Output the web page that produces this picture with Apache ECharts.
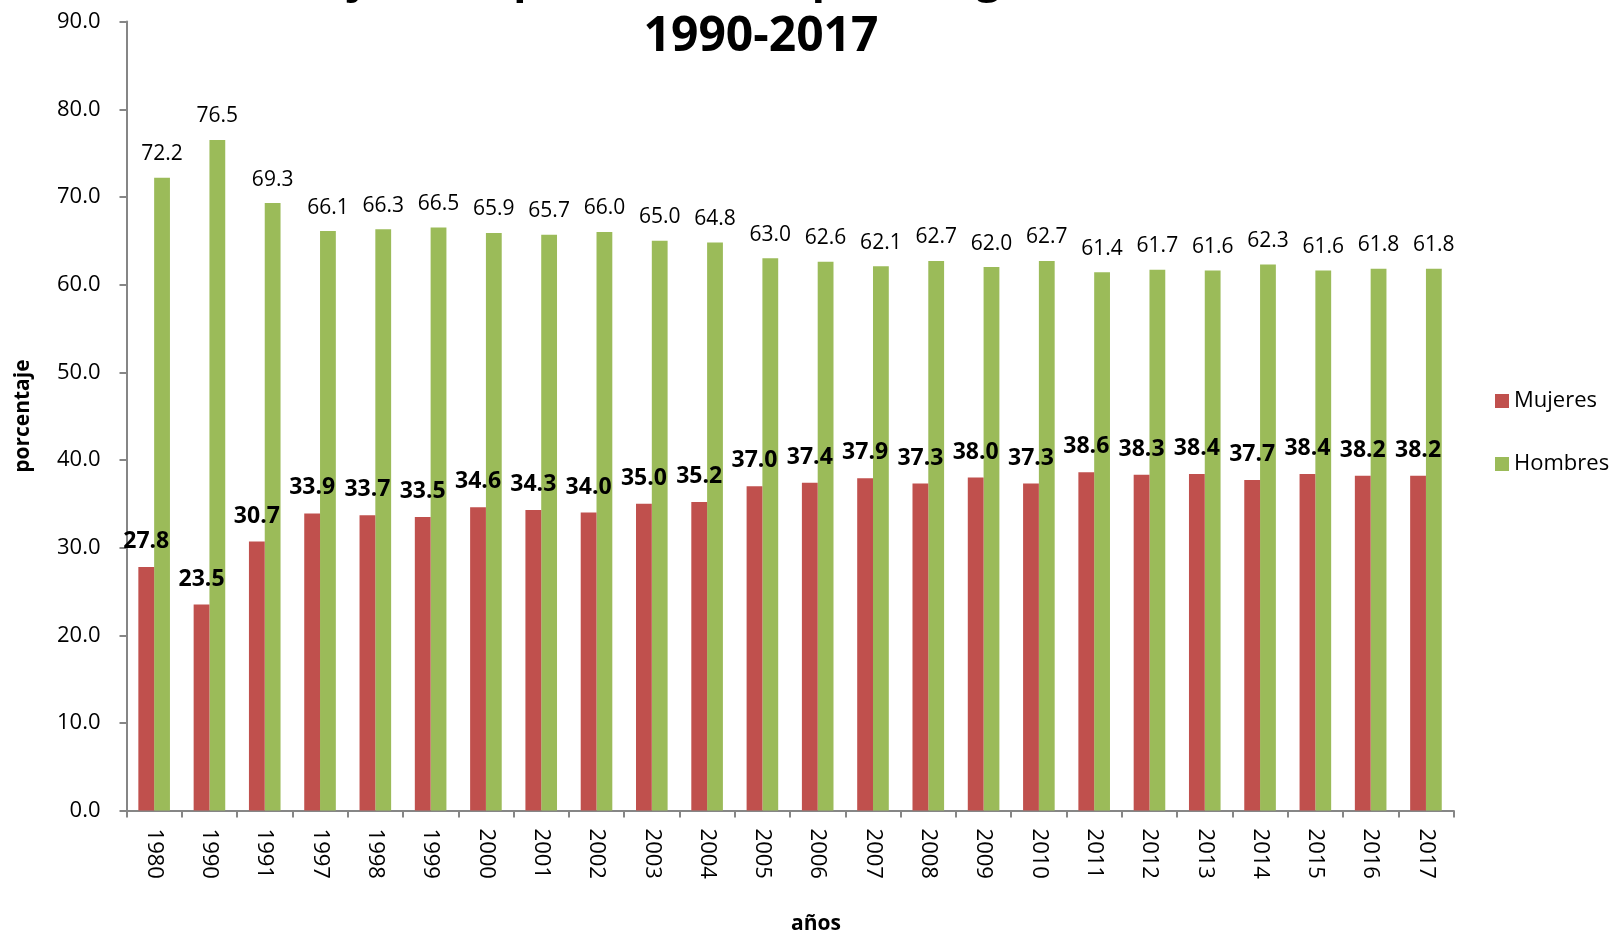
<!DOCTYPE html>
<html>
<head>
<meta charset="utf-8">
<script src="https://cdn.jsdelivr.net/npm/echarts@6/dist/echarts.min.js"></script>
<style>
  html, body { margin: 0; padding: 0; background: #ffffff; }
  #chart { width: 1613px; height: 933px; }
</style>
</head>
<body>
<div id="chart"></div>
<script>
// Years shown on the category axis
const years = ['1980', '1990', '1991', '1997', '1998', '1999', '2000', '2001', '2002', '2003',
  '2004', '2005', '2006', '2007', '2008', '2009', '2010', '2011', '2012', '2013',
  '2014', '2015', '2016', '2017'];

// Share of the employed population by sex (%)
const mujeres = [27.8, 23.5, 30.7, 33.9, 33.7, 33.5, 34.6, 34.3, 34.0, 35.0,
  35.2, 37.0, 37.4, 37.9, 37.3, 38.0, 37.3, 38.6, 38.3, 38.4,
  37.7, 38.4, 38.2, 38.2];
const hombres = [72.2, 76.5, 69.3, 66.1, 66.3, 66.5, 65.9, 65.7, 66.0, 65.0,
  64.8, 63.0, 62.6, 62.1, 62.7, 62.0, 62.7, 61.4, 61.7, 61.6,
  62.3, 61.6, 61.8, 61.8];

const titleLine1 = 'Porcentaje de la población ocupada según sexo,';
const titleLine2 = '1990-2017';

const FONT = 'Open Sans';
const AXIS_GREY = '#868686';

const chart = echarts.init(document.getElementById('chart'), null, { renderer: 'canvas' });

chart.setOption({
  backgroundColor: '#ffffff',
  animation: false,
  textStyle: { fontFamily: FONT },
  // first title line sits above the top edge, only its descenders reach into view
  graphic: [
    {
      type: 'text',
      x: 156,
      y: 2,
      silent: true,
      style: {
        text: titleLine1,
        fontFamily: FONT,
        fontWeight: 'bold',
        fontSize: 43,
        fill: '#000',
        align: 'left',
        verticalAlign: 'bottom'
      }
    }
  ],
  title: {
    text: titleLine2,
    left: 761,
    textAlign: 'center',
    top: 13,
    padding: 0,
    textStyle: { fontFamily: FONT, fontWeight: 'bold', fontSize: 48, color: '#000' }
  },
  legend: {
    orient: 'vertical',
    left: 1490,
    top: 385,
    itemWidth: 14,
    itemHeight: 14,
    itemGap: 41,
    icon: 'rect',
    textStyle: { fontFamily: FONT, fontSize: 22, color: '#000' },
    data: ['Mujeres', 'Hombres']
  },
  grid: {
    left: 126.5,
    right: 159.4,
    top: 21.6,
    bottom: 122.4,
    containLabel: false,
    outerBoundsMode: 'none'
  },
  xAxis: {
    type: 'category',
    data: years,
    name: 'años',
    nameLocation: 'middle',
    nameGap: 103,
    nameMoveOverlap: false,
    nameTextStyle: { fontFamily: FONT, fontWeight: 'bold', fontSize: 21, color: '#000', padding: [0, 0, 0, 52] },
    axisLine: { show: true, lineStyle: { color: AXIS_GREY, width: 2 } },
    axisTick: { show: true, length: 7, lineStyle: { color: AXIS_GREY, width: 2 } },
    axisLabel: { rotate: -90, margin: 18, fontFamily: FONT, fontSize: 22, color: '#000' },
    splitLine: { show: false }
  },
  yAxis: {
    type: 'value',
    min: 0,
    max: 90,
    interval: 10,
    name: 'porcentaje',
    nameLocation: 'middle',
    nameGap: 93,
    nameMoveOverlap: false,
    nameTextStyle: { fontFamily: FONT, fontWeight: 'bold', fontSize: 21, color: '#000' },
    axisLine: { show: true, lineStyle: { color: AXIS_GREY, width: 2 } },
    axisTick: { show: true, length: 7, lineStyle: { color: AXIS_GREY, width: 2 } },
    axisLabel: {
      margin: 26,
      fontFamily: FONT,
      fontSize: 22,
      color: '#000',
      formatter: v => v.toFixed(1)
    },
    splitLine: { show: false }
  },
  series: [
    {
      name: 'Mujeres',
      type: 'bar',
      data: mujeres,
      barWidth: 15.8,
      barGap: '0%',
      z: 3,
      itemStyle: { color: '#C0504D' },
      label: {
        show: true,
        position: 'top',
        distance: 14,
        fontFamily: FONT,
        fontWeight: 'bold',
        fontSize: 23,
        color: '#000',
        formatter: p => p.value.toFixed(1)
      }
    },
    {
      name: 'Hombres',
      type: 'bar',
      data: hombres,
      barWidth: 15.8,
      barGap: '0%',
      z: 2,
      itemStyle: { color: '#9BBB59' },
      label: {
        show: true,
        position: 'top',
        distance: 13,
        fontFamily: FONT,
        fontSize: 21,
        color: '#000',
        formatter: p => p.value.toFixed(1)
      }
    }
  ]
});
</script>
</body>
</html>
